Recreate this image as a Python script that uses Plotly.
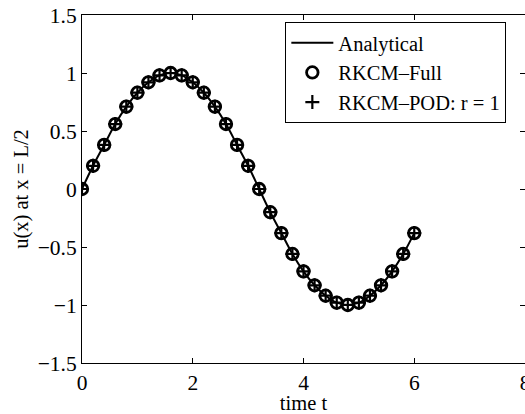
import plotly.graph_objects as go

# Sampled times and mid-span displacement u(L/2, t)
time_t = [0.0, 0.2, 0.4, 0.6, 0.8, 1.0, 1.2, 1.4, 1.6, 1.8, 2.0,
          2.2, 2.4, 2.6, 2.8, 3.0, 3.2, 3.4, 3.6, 3.8, 4.0, 4.2,
          4.4, 4.6, 4.8, 5.0, 5.2, 5.4, 5.6, 5.8, 6.0]
u_analytical = [0.00, 0.20, 0.38, 0.56, 0.71, 0.83, 0.92, 0.98, 1.00, 0.98, 0.92,
                0.83, 0.71, 0.56, 0.38, 0.20, 0.00, -0.20, -0.38, -0.56, -0.71, -0.83,
                -0.92, -0.98, -1.00, -0.98, -0.92, -0.83, -0.71, -0.56, -0.38]
u_rkcm_full = [0.00, 0.20, 0.38, 0.56, 0.71, 0.83, 0.92, 0.98, 1.00, 0.98, 0.92,
               0.83, 0.71, 0.56, 0.38, 0.20, 0.00, -0.20, -0.38, -0.56, -0.71, -0.83,
               -0.92, -0.98, -1.00, -0.98, -0.92, -0.83, -0.71, -0.56, -0.38]
u_rkcm_pod = [0.00, 0.20, 0.38, 0.56, 0.71, 0.83, 0.92, 0.98, 1.00, 0.98, 0.92,
              0.83, 0.71, 0.56, 0.38, 0.20, 0.00, -0.20, -0.38, -0.56, -0.71, -0.83,
              -0.92, -0.98, -1.00, -0.98, -0.92, -0.83, -0.71, -0.56, -0.38]

x_ticks = [0, 2, 4, 6, 8]
y_ticks = [-1.5, -1, -0.5, 0, 0.5, 1, 1.5]
y_tick_text = ["\u22121.5", "\u22121", "\u22120.5", "0", "0.5", "1", "1.5"]

FONT = "Liberation Serif, Times New Roman, serif"
FS = 21.5

fig = go.Figure()
fig.add_trace(go.Scatter(
    x=time_t, y=u_analytical, mode="lines", name="Analytical",
    line=dict(color="black", width=2, shape="spline"),
))
fig.add_trace(go.Scatter(
    x=time_t, y=u_rkcm_full, mode="markers", name="RKCM\u2013Full",
    marker=dict(symbol="circle-open", size=11.5, color="black",
                line=dict(color="black", width=2.8)),
))
fig.add_trace(go.Scatter(
    x=time_t, y=u_rkcm_pod, mode="markers", name="RKCM\u2013POD: r = 1",
    marker=dict(symbol="cross-thin-open", size=10, color="black",
                line=dict(color="black", width=2.2)),
))

axis_common = dict(
    showgrid=False, zeroline=False, showline=True, linecolor="black",
    linewidth=1, mirror="ticks", ticks="inside", ticklen=5, tickwidth=1,
    tickcolor="black", tickfont=dict(family=FONT, size=FS, color="black"),
    ticklabeloverflow="allow", automargin=False,
)

fig.update_layout(
    width=525, height=414,
    margin=dict(l=82, r=0, t=15, b=51, autoexpand=False),
    paper_bgcolor="white", plot_bgcolor="white",
    font=dict(family=FONT, size=FS, color="black"),
    xaxis=dict(range=[0, 8], tickvals=x_ticks, ticktext=[str(v) for v in x_ticks],
               title=dict(text="time t", standoff=5,
                          font=dict(family=FONT, size=FS - 1, color="black")),
               **axis_common),
    yaxis=dict(range=[-1.5, 1.5], tickvals=y_ticks, ticktext=y_tick_text,
               title=dict(text="u(x) at x = L/2", standoff=3,
                          font=dict(family=FONT, size=FS - 1, color="black")),
               **axis_common),
    legend=dict(x=0.459, y=0.98, xanchor="left", yanchor="top",
                bgcolor="white", bordercolor="black", borderwidth=1,
                font=dict(family=FONT, size=20.5, color="black"),
                itemwidth=42, tracegroupgap=0),
    showlegend=True,
)

fig.write_html("out.html")
